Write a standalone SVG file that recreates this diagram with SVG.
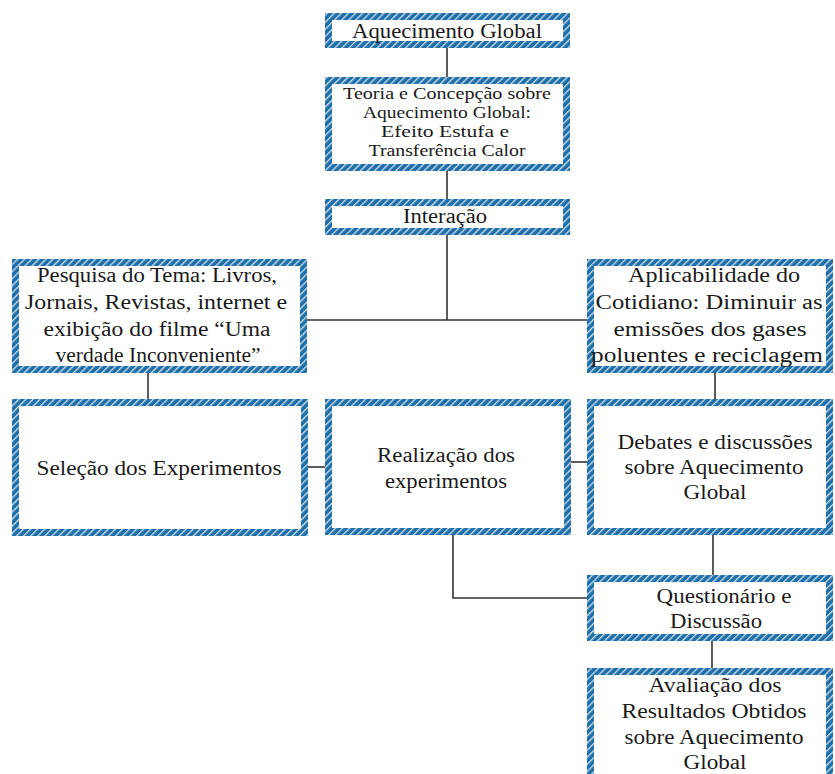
<svg xmlns="http://www.w3.org/2000/svg" width="835" height="774" viewBox="0 0 835 774">
<defs>
<pattern id="hatch" patternUnits="userSpaceOnUse" width="5" height="5" patternTransform="rotate(45)">
<rect width="5" height="5" fill="#1f6ea8"/>
<rect x="0" y="0" width="1.3" height="5" fill="#cfe3f2"/>
</pattern>
</defs>
<style>
.box{fill:#ffffff;stroke:url(#hatch);stroke-width:7}
.t{font-family:"Liberation Serif","Times New Roman",serif;fill:#1a1a1a;text-anchor:middle}
.big{font-size:20px}
.small{font-size:17px}
.c{stroke:#333333;stroke-width:1.6;fill:none}
</style>
<rect width="835" height="774" fill="#ffffff"/>
<g id="connectors">
<line class="c" x1="447" y1="48" x2="447" y2="77"/>
<line class="c" x1="447" y1="171" x2="447" y2="199"/>
<line class="c" x1="447" y1="235" x2="447" y2="320"/>
<line class="c" x1="307" y1="320" x2="587" y2="320"/>
<line class="c" x1="148" y1="373" x2="148" y2="399"/>
<line class="c" x1="715" y1="373" x2="715" y2="399"/>
<line class="c" x1="308" y1="467" x2="325" y2="467"/>
<line class="c" x1="571" y1="462" x2="587" y2="462"/>
<polyline class="c" points="453,535 453,598 587,598"/>
<line class="c" x1="713" y1="535" x2="713" y2="575"/>
<line class="c" x1="712" y1="641" x2="712" y2="668"/>
</g>
<g id="n1">
<rect class="box" x="328.5" y="16.5" width="238" height="28"/>
<text class="t big" x="447" y="38" textLength="190" lengthAdjust="spacingAndGlyphs">Aquecimento Global</text>
</g>
<g id="n2">
<rect class="box" x="328.5" y="80.5" width="238" height="87"/>
<text class="t small" x="447" y="99" textLength="208" lengthAdjust="spacingAndGlyphs">Teoria e Concepção sobre</text>
<text class="t small" x="447" y="118" textLength="168" lengthAdjust="spacingAndGlyphs">Aquecimento Global:</text>
<text class="t small" x="445" y="137" textLength="128" lengthAdjust="spacingAndGlyphs">Efeito Estufa e</text>
<text class="t small" x="447" y="156" textLength="157" lengthAdjust="spacingAndGlyphs">Transferência Calor</text>
</g>
<g id="n3">
<rect class="box" x="328.5" y="202.5" width="238" height="29"/>
<text class="t big" x="445" y="223" textLength="84" lengthAdjust="spacingAndGlyphs">Interação</text>
</g>
<g id="n4">
<rect class="box" x="15.5" y="262.5" width="288" height="107"/>
<text class="t big" x="157" y="282" textLength="240" lengthAdjust="spacingAndGlyphs">Pesquisa do Tema: Livros,</text>
<text class="t big" x="156" y="309" textLength="262" lengthAdjust="spacingAndGlyphs">Jornais, Revistas, internet e</text>
<text class="t big" x="157" y="336" textLength="227" lengthAdjust="spacingAndGlyphs">exibição do filme “Uma</text>
<text class="t big" x="158" y="362" textLength="205" lengthAdjust="spacingAndGlyphs">verdade Inconveniente”</text>
</g>
<g id="n5">
<rect class="box" x="590.5" y="262.5" width="239" height="107"/>
<text class="t big" x="714" y="282" textLength="172" lengthAdjust="spacingAndGlyphs">Aplicabilidade do</text>
<text class="t big" x="709" y="309" textLength="227" lengthAdjust="spacingAndGlyphs">Cotidiano: Diminuir as</text>
<text class="t big" x="710" y="336" textLength="193" lengthAdjust="spacingAndGlyphs">emissões dos gases</text>
<text class="t big" x="707" y="362" textLength="232" lengthAdjust="spacingAndGlyphs">poluentes e reciclagem</text>
</g>
<g id="n6">
<rect class="box" x="15.5" y="402.5" width="289" height="130"/>
<text class="t big" x="159" y="475" textLength="245" lengthAdjust="spacingAndGlyphs">Seleção dos Experimentos</text>
</g>
<g id="n7">
<rect class="box" x="328.5" y="402.5" width="239" height="129"/>
<text class="t big" x="446" y="462" textLength="138" lengthAdjust="spacingAndGlyphs">Realização dos</text>
<text class="t big" x="446" y="488" textLength="122" lengthAdjust="spacingAndGlyphs">experimentos</text>
</g>
<g id="n8">
<rect class="box" x="590.5" y="402.5" width="239" height="129"/>
<text class="t big" x="715" y="449" textLength="195" lengthAdjust="spacingAndGlyphs">Debates e discussões</text>
<text class="t big" x="714" y="474" textLength="179" lengthAdjust="spacingAndGlyphs">sobre Aquecimento</text>
<text class="t big" x="715" y="499" textLength="63" lengthAdjust="spacingAndGlyphs">Global</text>
</g>
<g id="n9">
<rect class="box" x="590.5" y="578.5" width="239" height="59"/>
<text class="t big" x="724" y="603" textLength="135" lengthAdjust="spacingAndGlyphs">Questionário e</text>
<text class="t big" x="716" y="628" textLength="92" lengthAdjust="spacingAndGlyphs">Discussão</text>
</g>
<g id="n10">
<rect class="box" x="590.5" y="671.5" width="239" height="120"/>
<text class="t big" x="715" y="692" textLength="133" lengthAdjust="spacingAndGlyphs">Avaliação dos</text>
<text class="t big" x="714" y="718" textLength="185" lengthAdjust="spacingAndGlyphs">Resultados Obtidos</text>
<text class="t big" x="714" y="744" textLength="179" lengthAdjust="spacingAndGlyphs">sobre Aquecimento</text>
<text class="t big" x="715" y="769" textLength="63" lengthAdjust="spacingAndGlyphs">Global</text>
</g>
</svg>
